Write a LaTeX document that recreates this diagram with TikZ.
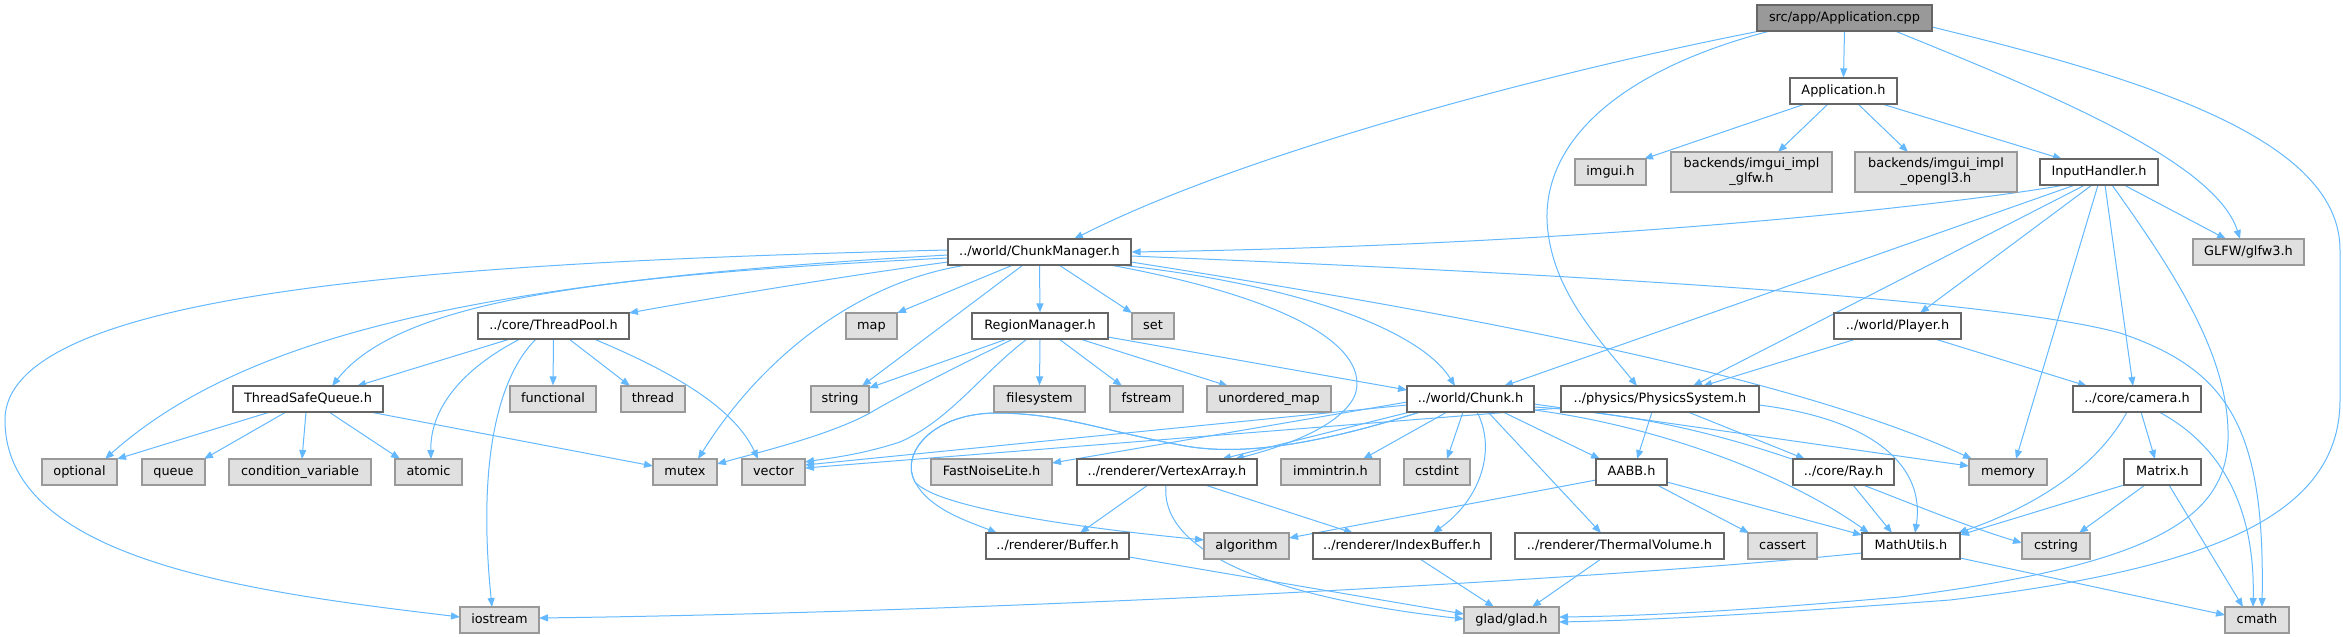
\documentclass[tikz,border=0pt]{standalone}
\usepackage{fontspec}
\setmainfont{DejaVu Sans}
\usetikzlibrary{arrows.meta,calc}
\definecolor{edgec}{HTML}{63B8FF}
\definecolor{sysfill}{HTML}{E0E0E0}
\definecolor{bordL}{HTML}{999999}
\definecolor{bordD}{HTML}{666666}
\definecolor{rootfill}{HTML}{999999}
\pgfdeclarelayer{bg}
\pgfsetlayers{bg,main}
\tikzset{
  base/.style={draw, line width=1.2pt, inner sep=0pt, minimum height=26pt, align=center, rectangle},
  one/.style={text height=9.6pt, text depth=2.6pt},
  proj/.style={base, one, draw=bordD, fill=white},
  sys/.style={base, one, draw=bordL, fill=sysfill},
  systwo/.style={base, draw=bordL, fill=sysfill, minimum height=40pt},
  rootbox/.style={base, one, draw=bordD, fill=rootfill},
  dep/.style={draw=edgec, line width=1pt, -{Triangle[length=9pt,width=7pt]}},
}
\begin{document}
\begin{tikzpicture}[x=1pt,y=-1pt,font=\fontsize{12.86}{15}\selectfont]
\useasboundingbox (0,0) rectangle (2343,637);
% row 0-2
\node[rootbox, minimum width=175pt] (app) at (1844.5,18) {src/app/Application.cpp};
\node[proj, minimum width=107pt] (apph) at (1843.5,91) {Application.h};
\node[sys, minimum width=71pt] (imgui) at (1610.5,172) {imgui.h};
\node[systwo, minimum width=161pt] (glfwimpl) at (1751.5,172) {backends/imgui\_impl\\\_glfw.h};
\node[systwo, minimum width=162pt] (gl3impl) at (1936,172) {backends/imgui\_impl\\\_opengl3.h};
\node[proj, minimum width=118pt] (input) at (2099,172) {InputHandler.h};
% row 3
\node[proj, minimum width=183pt] (cm) at (1039.5,252) {../world/ChunkManager.h};
\node[sys, minimum width=111pt] (glfw3) at (2248.5,252) {GLFW/glfw3.h};
% row 4
\node[proj, minimum width=151pt] (tp) at (553.5,326) {../core/ThreadPool.h};
\node[sys, minimum width=51pt] (map) at (871.5,326) {map};
\node[proj, minimum width=136pt] (rm) at (1040,326) {RegionManager.h};
\node[sys, minimum width=42pt] (set) at (1153,326) {set};
\node[proj, minimum width=127pt] (player) at (1897.5,326) {../world/Player.h};
% row 5
\node[proj, minimum width=150pt] (tsq) at (308,399) {ThreadSafeQueue.h};
\node[sys, minimum width=86pt] (functional) at (553,399) {functional};
\node[sys, minimum width=64pt] (thread) at (653,399) {thread};
\node[sys, minimum width=58pt] (string) at (840,399) {string};
\node[sys, minimum width=91pt] (filesystem) at (1039.5,399) {filesystem};
\node[sys, minimum width=73pt] (fstream) at (1146.5,399) {fstream};
\node[sys, minimum width=124pt] (umap) at (1269,399) {unordered\_map};
\node[proj, minimum width=127pt] (chunk) at (1470.5,399) {../world/Chunk.h};
\node[proj, minimum width=198pt] (phys) at (1660,399) {../physics/PhysicsSystem.h};
\node[proj, minimum width=128pt] (camera) at (2137,399) {../core/camera.h};
% row 6
\node[sys, minimum width=75pt] (optional) at (79.5,472) {optional};
\node[sys, minimum width=63pt] (queue) at (173.5,472) {queue};
\node[sys, minimum width=142pt] (condvar) at (300,472) {condition\_variable};
\node[sys, minimum width=67pt] (atomic) at (428.5,472) {atomic};
\node[sys, minimum width=64pt] (mutex) at (685,472) {mutex};
\node[sys, minimum width=63pt] (vector) at (773.5,472) {vector};
\node[sys, minimum width=121pt] (fnl) at (991.5,472) {FastNoiseLite.h};
\node[proj, minimum width=180pt] (va) at (1167,472) {../renderer/VertexArray.h};
\node[sys, minimum width=99pt] (immintrin) at (1330.5,472) {immintrin.h};
\node[sys, minimum width=66pt] (cstdint) at (1437,472) {cstdint};
\node[proj, minimum width=71pt] (aabb) at (1631.5,472) {AABB.h};
\node[proj, minimum width=101pt] (ray) at (1843.5,472) {../core/Ray.h};
\node[sys, minimum width=78pt] (memory) at (2008,472) {memory};
\node[proj, minimum width=77pt] (matrix) at (2162.5,472) {Matrix.h};
% row 7
\node[proj, minimum width=143pt] (buffer) at (1057.5,546) {../renderer/Buffer.h};
\node[sys, minimum width=85pt] (algorithm) at (1246.5,546) {algorithm};
\node[proj, minimum width=178pt] (ib) at (1402,546) {../renderer/IndexBuffer.h};
\node[proj, minimum width=209pt] (tv) at (1619.5,546) {../renderer/ThermalVolume.h};
\node[sys, minimum width=69pt] (cassert) at (1782.5,546) {cassert};
\node[proj, minimum width=98pt] (mathu) at (1911,546) {MathUtils.h};
\node[sys, minimum width=68pt] (cstring) at (2056,546) {cstring};
% row 8
\node[sys, minimum width=79pt] (iostream) at (499.5,620) {iostream};
\node[sys, minimum width=95pt] (glad) at (1511.5,620) {glad/glad.h};
\node[sys, minimum width=64pt] (cmath) at (2257,620) {cmath};

\begin{pgfonlayer}{bg}
% Application.cpp
\draw[dep] (app.south) -- (apph.north);
\draw[dep] ($(app)+(-84.5,13)$) .. controls (1560,70) and (1250,150) .. ($(cm)+(34.5,-13)$);
\draw[dep] ($(app)+(-74.5,13)$) .. controls (1620,70) and (1545,140) .. (1547,220) .. controls (1550,290) and (1600,340) .. ($(phys)+(-23,-13)$);
\draw[dep] ($(app)+(50.5,13)$) .. controls (2040,90) and (2215,160) .. ($(glfw3)+(-8.5,-13)$);
\draw[dep] ($(app)+(87.5,9)$) .. controls (2150,80) and (2340,140) .. (2340,250) -- (2340,400) .. controls (2340,520) and (2200,570) .. (1950,600) .. controls (1750,615) and (1650,620) .. ($(glad)+(47.5,2)$);
% Application.h
\draw[dep] ($(apph)+(-38.5,13)$) -- ($(imgui)+(33.5,-13)$);
\draw[dep] ($(apph)+(-15.5,13)$) -- ($(glfwimpl)+(26.5,-20)$);
\draw[dep] ($(apph)+(14.5,13)$) -- ($(gl3impl)+(-28,-20)$);
\draw[dep] ($(apph)+(38.5,13)$) -- ($(input)+(-37,-13)$);
% InputHandler.h
\draw[dep] ($(input)+(-34,13)$) .. controls (1950,205) and (1600,245) .. (cm.east);
\draw[dep] ($(input)+(-24,13)$) -- ($(chunk)+(33.5,-13)$);
\draw[dep] ($(input)+(-14,13)$) -- ($(phys)+(33,-13)$);
\draw[dep] ($(input)+(-7,13)$) -- ($(player)+(22.5,-13)$);
\draw[dep] ($(input)+(-1,13)$) -- ($(memory)+(8,-13)$);
\draw[dep] ($(input)+(6,13)$) -- ($(camera)+(-4,-13)$);
\draw[dep] ($(input)+(13,13)$) .. controls (2180,280) and (2230,360) .. (2228,440) .. controls (2225,520) and (2150,565) .. (1900,597) .. controls (1750,610) and (1650,616) .. ($(glad)+(47.5,-3)$);
\draw[dep] ($(input)+(25,13)$) -- ($(glfw3)+(-22.5,-13)$);
% ChunkManager.h
\draw[dep] ($(cm)+(-91.5,-2)$) .. controls (450,262) and (5,290) .. (5,420) .. controls (5,560) and (250,592) .. ($(iostream)+(-39.5,-3)$);
\draw[dep] ($(cm)+(-91.5,3)$) .. controls (500,280) and (250,330) .. ($(optional)+(25.5,-13)$);
\draw[dep] ($(cm)+(-91.5,6)$) .. controls (600,275) and (400,300) .. ($(tsq)+(24,-13)$);
\draw[dep] ($(cm)+(-91.5,10)$) .. controls (850,275) and (700,300) .. ($(tp)+(75.5,-13)$);
\draw[dep] ($(cm)+(-72.5,13)$) .. controls (855,282) and (760,360) .. ($(mutex)+(13,-13)$);
\draw[dep] ($(cm)+(-16.5,13)$) -- ($(string)+(22,-13)$);
\draw[dep] ($(cm)+(-26.5,13)$) -- ($(map)+(25.5,-13)$);
\draw[dep] (cm.south) -- (rm.north);
\draw[dep] ($(cm)+(19.5,13)$) -- ($(set)+(-21,-13)$);
\draw[dep] ($(cm)+(80.5,13)$) .. controls (1300,285) and (1420,330) .. ($(chunk)+(-15.5,-13)$);
\draw[dep] ($(cm)+(70.5,13)$) .. controls (1300,300) and (1370,350) .. (1355,395) .. controls (1340,430) and (1270,450) .. ($(va)+(68,-13)$);
\draw[dep] ($(cm)+(91.5,10)$) .. controls (1500,320) and (1800,380) .. ($(memory)+(-36,-13)$);
\draw[dep] ($(cm)+(91.5,4)$) .. controls (1600,275) and (2000,300) .. (2120,333) .. controls (2230,370) and (2265,430) .. ($(cmath)+(5,-13)$);
% ThreadPool.h
\draw[dep] ($(tp)+(-43.5,13)$) -- ($(tsq)+(49,-13)$);
\draw[dep] ($(tp)+(-33.5,13)$) .. controls (460,370) and (430,410) .. ($(atomic)+(2.5,-13)$);
\draw[dep] ($(tp)+(-17.5,13)$) .. controls (495,380) and (478,470) .. ($(iostream)+(-7.5,-13)$);
\draw[dep] (tp.south) -- (functional.north);
\draw[dep] ($(tp)+(15.5,13)$) -- ($(thread)+(-23,-13)$);
\draw[dep] ($(tp)+(40.5,13)$) .. controls (680,375) and (735,410) .. ($(vector)+(-15.5,-13)$);
% ThreadSafeQueue.h
\draw[dep] ($(tsq)+(-38,13)$) -- ($(optional)+(37.5,-13)$);
\draw[dep] ($(tsq)+(-22,13)$) -- ($(queue)+(30.5,-13)$);
\draw[dep] ($(tsq)+(-2,13)$) -- ($(condvar)+(2,-13)$);
\draw[dep] ($(tsq)+(21,13)$) -- ($(atomic)+(-28.5,-13)$);
\draw[dep] ($(tsq)+(62,13)$) -- ($(mutex)+(-32,-6)$);
% RegionManager.h
\draw[dep] ($(rm)+(-33,13)$) -- ($(string)+(29,-11)$);
\draw[dep] ($(rm)+(-27,13)$) .. controls (960,365) and (900,395) .. (870,413) .. controls (830,435) and (760,452) .. ($(mutex)+(32,-8)$);
\draw[dep] ($(rm)+(-13,13)$) .. controls (980,375) and (950,420) .. (900,442) .. controls (860,455) and (830,458) .. ($(vector)+(31.5,-10)$);
\draw[dep] (rm.south) -- (filesystem.north);
\draw[dep] ($(rm)+(19,13)$) -- ($(fstream)+(-24.5,-13)$);
\draw[dep] ($(rm)+(40,13)$) -- ($(umap)+(-41,-13)$);
\draw[dep] ($(rm)+(68,11)$) -- ($(chunk)+(-63.5,-9)$);
% Chunk.h
\draw[dep] ($(chunk)+(-63.5,6)$) -- ($(vector)+(31.5,-7)$);
\draw[dep] ($(chunk)+(-63.5,3)$) -- ($(fnl)+(60.5,-9)$);
\draw[dep] ($(chunk)+(-60.5,13)$) -- ($(va)+(55,-13)$);
\draw[dep] ($(chunk)+(-50.5,13)$) .. controls (1300,450) and (1230,455) .. (1180,445) .. controls (1100,430) and (1060,413) .. (995,413) .. controls (930,414) and (900,455) .. (915,482) .. controls (930,510) and (970,522) .. ($(buffer)+(-60.5,-13)$);
\draw[dep] ($(chunk)+(-50.5,13)$) .. controls (1300,450) and (1230,455) .. (1180,445) .. controls (1100,430) and (1060,413) .. (995,413) .. controls (930,414) and (900,455) .. (915,482) .. controls (935,505) and (1050,525) .. ($(algorithm)+(-42.5,-6)$);
\draw[dep] ($(chunk)+(-23.5,13)$) -- ($(immintrin)+(32.5,-13)$);
\draw[dep] ($(chunk)+(-7.5,13)$) -- ($(cstdint)+(10,-13)$);
\draw[dep] ($(chunk)+(6.5,13)$) .. controls (1497,450) and (1480,500) .. ($(ib)+(31,-13)$);
\draw[dep] ($(chunk)+(17.5,13)$) -- ($(tv)+(-18.5,-13)$);
\draw[dep] ($(chunk)+(32.5,13)$) -- ($(aabb)+(-31.5,-13)$);
\draw[dep] ($(chunk)+(63.5,11)$) .. controls (1650,425) and (1780,470) .. ($(mathu)+(-42,-13)$);
\draw[dep] ($(chunk)+(63.5,5)$) -- ($(memory)+(-39,-6)$);
\draw[dep] ($(chunk)+(63.5,8)$) .. controls (1750,420) and (1880,500) .. ($(cstring)+(-34,-3)$);
% PhysicsSystem.h
\draw[dep] ($(phys)+(-99,9)$) -- ($(vector)+(31.5,-4)$);
\draw[dep] ($(phys)+(-8,13)$) -- ($(aabb)+(5.5,-13)$);
\draw[dep] ($(phys)+(28,13)$) -- ($(ray)+(-38.5,-13)$);
\draw[dep] ($(phys)+(99,6)$) .. controls (1880,420) and (1925,470) .. ($(mathu)+(4,-13)$);
% Player.h
\draw[dep] ($(player)+(-41.5,13)$) -- ($(phys)+(43,-13)$);
\draw[dep] ($(player)+(37.5,13)$) -- ($(camera)+(-50,-13)$);
% camera.h
\draw[dep] ($(camera)+(-10,13)$) .. controls (2090,480) and (2010,515) .. ($(mathu)+(47,-13)$);
\draw[dep] ($(camera)+(4,13)$) -- ($(matrix)+(-7.5,-13)$);
\draw[dep] ($(camera)+(22,13)$) .. controls (2230,450) and (2255,520) .. ($(cmath)+(-4,-13)$);
% Matrix.h
\draw[dep] ($(matrix)+(-38.5,13)$) -- ($(mathu)+(49,-11)$);
\draw[dep] ($(matrix)+(-17.5,13)$) -- ($(cstring)+(23,-13)$);
\draw[dep] ($(matrix)+(6.5,13)$) -- ($(cmath)+(-14,-13)$);
% Ray.h, AABB.h
\draw[dep] ($(ray)+(9.5,13)$) -- ($(mathu)+(-19,-13)$);
\draw[dep] ($(aabb)+(-35.5,8)$) -- ($(algorithm)+(42.5,-8)$);
\draw[dep] ($(aabb)+(25.5,13)$) -- ($(cassert)+(-33.5,-13)$);
\draw[dep] ($(aabb)+(35.5,10)$) -- ($(mathu)+(-49,-11)$);
% MathUtils.h
\draw[dep] ($(mathu)+(-49,7)$) .. controls (1600,580) and (1000,612) .. ($(iostream)+(39.5,-2)$);
\draw[dep] ($(mathu)+(49,12)$) -- ($(cmath)+(-32,-5)$);
% renderer
\draw[dep] ($(ib)+(18,13)$) -- ($(glad)+(-17.5,-13)$);
\draw[dep] ($(tv)+(-18.5,13)$) -- ($(glad)+(20.5,-13)$);
\draw[dep] ($(buffer)+(71.5,11)$) -- ($(glad)+(-47.5,-6)$);
\draw[dep] ($(va)+(-1,13)$) .. controls (1160,545) and (1250,595) .. ($(glad)+(-47.5,-1)$);
\draw[dep] ($(va)+(-19,13)$) -- ($(buffer)+(22.5,-13)$);
\draw[dep] ($(va)+(38,13)$) -- ($(ib)+(-49,-13)$);
\end{pgfonlayer}
\end{tikzpicture}
\end{document}
